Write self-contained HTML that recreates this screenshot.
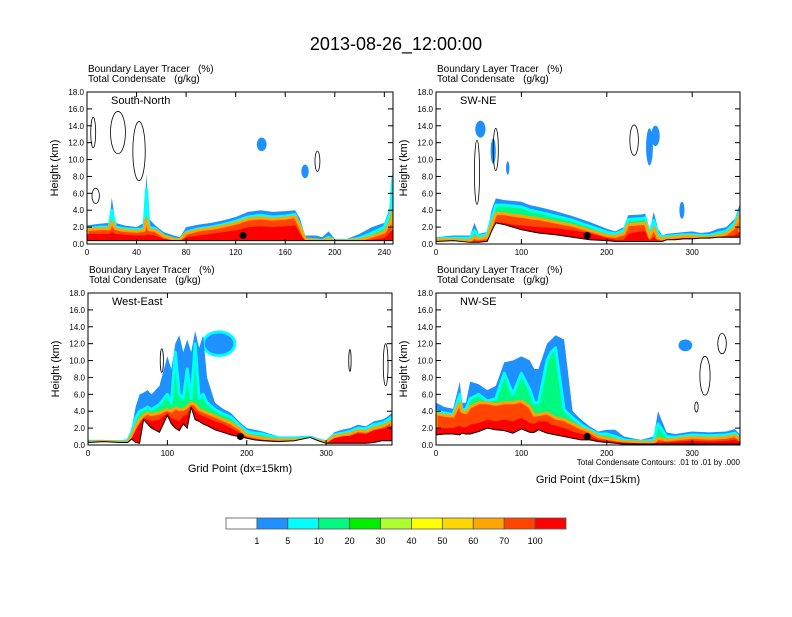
<!DOCTYPE html>
<html><head><meta charset="utf-8"><style>
body{margin:0;background:#fff;font-family:"Liberation Sans",sans-serif}
svg text{font-family:"Liberation Sans",sans-serif}
</style></head><body>
<svg id="fig" width="792" height="612" viewBox="0 0 792 612">
<text x="396" y="50" font-size="18" text-anchor="middle">2013-08-26_12:00:00</text>
</svg>
<script>
const levelLabels=["1","5","10","20","30","40","50","60","70","100"];
const levelColors=["#ffffff","#1e90ff","#00ffff","#00fa80","#00ee00","#adff2f","#ffff00","#ffd700","#ffa500","#ff4500","#ff0000"];
const yTicks=[0,2,4,6,8,10,12,14,16,18];

const aXs=[0,10,18,20,23,30,40,46,48,50,55,62,70,75,80,90,100,110,120,130,140,150,160,168,172,176,185,190,195,200,210,220,230,240,245,247];
const aGround=[0.4,0.4,0.4,0.4,0.4,0.4,0.4,0.4,0.4,0.4,0.4,0.4,0.4,0.4,0.4,0.4,0.4,0.4,0.4,0.4,0.4,0.4,0.4,0.4,0.4,0.4,0.4,0.4,0.4,0.4,0.4,0.4,0.4,0.4,0.4,0.4];
const aBlue=[2.2,2.4,2.5,5.5,2.5,2.2,2.0,2.5,8.3,3,2.2,1.4,1.0,0.8,2.0,2.3,2.5,2.8,3.2,3.8,4.0,3.8,3.9,4.0,3.0,1.0,1.0,0.8,1.5,0.6,0.6,1.2,2.0,2.5,4.5,9.5];
const aGreen=[1.8,2.0,2.0,4.0,2.0,1.8,1.7,1.8,6.5,2.0,1.8,1.0,0.6,0.5,1.4,1.8,2.0,2.3,2.7,3.2,3.4,3.2,3.3,3.5,2.2,0.6,0.5,0.4,0.8,0.4,0.4,0.7,1.3,2.0,3.8,8.0];
const aOrange=[1.7,1.8,1.8,2.6,1.8,1.6,1.5,1.6,3.0,1.7,1.6,0.9,0.55,0.45,1.25,1.65,1.85,2.1,2.45,2.95,3.1,2.95,3.05,3.25,2.0,0.55,0.45,0.35,0.6,0.35,0.35,0.5,0.9,1.4,2.6,4.0];
const aRed=[1.2,1.2,1.2,1.4,1.2,1.1,1.0,1.0,1.1,1.1,1.0,0.6,0.45,0.4,0.8,1.0,1.2,1.4,1.6,2.0,2.1,2.0,2.1,2.2,1.2,0.45,0.4,0.3,0.4,0.3,0.3,0.35,0.5,0.7,1.4,1.8];

const bXs=[0,20,40,45,50,60,65,70,80,90,100,110,120,140,160,180,200,210,220,225,240,245,250,255,260,265,270,280,290,300,310,320,330,340,350,356];
const bGround=[0.3,0.4,0.2,0.2,0.2,0.3,1.5,2.5,2.3,2.0,1.7,1.5,1.3,1.1,0.8,0.5,0.4,0.3,0.3,0.3,0.3,0.3,0.3,0.3,0.3,0.3,0.5,0.5,0.6,0.6,0.7,0.7,0.8,0.8,0.8,0.8];
const bBlue=[0.8,1.0,1.0,2.5,1.2,1.4,4.0,5.4,5.2,5.1,5.0,4.6,4.4,3.9,3.3,2.6,1.8,1.5,2.0,3.4,3.5,3.6,1.5,3.8,1.8,1.0,1.2,1.3,1.4,1.5,1.3,1.4,1.8,2.0,3.0,4.8];
const bGreen=[0.6,0.7,0.7,1.6,0.9,1.1,3.0,4.6,4.6,4.5,4.4,4.0,3.8,3.3,2.8,2.1,1.4,1.2,1.6,2.9,3.0,3.1,1.1,2.8,1.2,0.8,0.9,1.0,1.1,1.1,1.0,1.0,1.3,1.5,2.5,4.0];
const bOrange=[0.5,0.5,0.4,0.8,0.6,0.8,2.2,3.6,3.6,3.4,3.3,3.1,3.0,2.6,2.2,1.6,1.0,0.9,1.2,2.3,2.4,2.5,0.8,1.9,0.7,0.6,0.7,0.8,0.9,0.9,0.8,0.8,1.0,1.2,2.0,3.5];
const bRed=[0.3,0.4,0.2,0.3,0.3,0.4,1.6,2.6,2.5,2.3,2.2,2.1,2.0,1.9,1.6,1.3,0.7,0.5,0.5,1.2,1.5,1.5,0.4,0.8,0.4,0.4,0.5,0.6,0.7,0.7,0.7,0.8,0.8,0.9,1.0,1.5];

const cXs=[0,20,40,50,55,60,65,70,75,80,90,100,105,110,115,120,125,130,135,140,145,150,160,170,180,190,200,210,220,240,260,280,290,300,310,320,330,340,350,360,370,375,383];
const cGround=[0.3,0.4,0.3,0.3,0.7,0.3,0.2,3.0,2.5,2.0,1.5,3.5,2.5,2.0,1.7,2.5,2.0,4.5,3.0,2.8,2.5,2.3,1.8,1.5,1.2,1.0,0.8,0.6,0.5,0.4,0.5,0.9,0.5,0.2,0.2,0.2,0.2,0.2,0.2,0.3,0.5,0.5,0.5];
const cBlue=[0.6,0.6,0.5,0.7,2.0,4.5,6.0,6.2,6.5,6.0,7.0,10.5,9.0,12.0,13.0,11.0,12.5,11.0,13.5,11.5,13.0,8.0,5.0,4.3,3.8,2.8,2.0,1.8,1.6,1.0,1.0,1.1,0.8,0.5,1.5,1.8,2.0,2.4,2.2,2.8,3.0,3.2,3.8];
const cGreen=[0.4,0.4,0.4,0.5,1.5,3.2,4.0,4.2,4.5,4.2,4.8,6.0,5.0,11.0,6.0,5.5,9.0,5.5,12.0,5.5,6.0,5.0,4.2,3.7,3.3,2.4,1.6,1.4,1.3,0.8,0.8,0.9,0.6,0.4,1.2,1.4,1.6,2.0,1.9,2.4,2.6,2.8,3.3];
const cOrange=[0.3,0.4,0.3,0.3,1.0,2.2,3.0,3.5,3.8,3.6,3.8,4.2,4.0,4.4,4.2,4.2,4.5,5.0,4.8,4.2,4.0,3.8,3.4,3.0,2.6,2.0,1.2,1.0,0.8,0.6,0.6,0.7,0.5,0.3,1.0,1.2,1.3,1.7,1.6,2.0,2.2,2.4,2.8];
const cRed=[0.3,0.4,0.3,0.3,0.8,1.8,2.5,3.2,3.0,2.8,3.0,3.8,3.2,3.0,2.8,3.4,3.6,4.6,4.0,3.6,3.4,3.2,2.8,2.5,2.0,1.5,0.9,0.7,0.6,0.5,0.5,0.6,0.4,0.2,0.8,1.0,1.1,1.4,1.3,1.7,1.9,2.0,2.3];

const dXs=[0,10,20,28,30,35,40,50,60,70,80,90,100,110,115,120,130,135,140,150,160,170,180,190,200,210,220,240,255,260,270,280,300,320,340,350,356];
const dGround=[1.2,1.3,1.3,1.2,1.4,1.3,1.3,1.6,2.0,1.8,1.7,1.4,1.9,1.5,1.5,1.8,1.4,1.3,1.2,1.0,0.8,0.6,0.6,0.4,0.3,0.2,0.1,0.1,0.1,0.1,0.1,0.1,0.1,0.1,0.1,0.1,0.1];
const dBlue=[5.0,4.5,4.3,7.5,5.0,5.0,7.5,7.2,6.5,7.0,9.8,10.0,10.5,10.0,9.0,9.0,12.0,12.5,13.0,12.5,4.0,3.0,2.2,1.6,1.8,1.8,1.0,0.6,1.0,4.0,1.5,1.3,1.6,1.5,1.6,1.9,1.2];
const dGreen=[4.0,3.8,3.6,6.0,4.2,4.2,5.5,6.0,5.2,5.5,8.5,6.0,8.5,6.5,5.0,5.0,10.0,11.0,11.5,4.2,3.2,2.4,1.8,1.3,1.3,1.0,0.6,0.4,0.6,2.5,1.0,0.9,1.2,1.1,1.2,1.4,0.9];
const dOrange=[3.7,3.5,3.4,5.0,4.0,3.8,4.5,5.0,5.0,4.8,5.0,5.0,5.2,4.5,3.5,3.6,3.8,3.5,3.2,3.0,2.5,2.0,1.6,1.0,0.8,0.6,0.4,0.3,0.3,0.8,0.6,0.7,0.9,0.8,0.9,1.1,0.7];
const dRed=[2.0,2.0,2.0,2.3,2.1,2.1,2.4,2.6,3.0,2.8,3.0,2.8,3.2,2.6,2.5,2.8,2.8,2.4,2.3,2.0,1.6,1.3,1.1,0.6,0.5,0.4,0.3,0.2,0.2,0.3,0.3,0.4,0.5,0.4,0.5,0.6,0.4];

// blobs: [x, height, rx(grid), ry(km)]
const aBlobs=[[141,11.8,4,0.8],[176,8.6,3,0.8]];
const bBlobs=[[52,13.6,6,1.0],[67,11,3,1.5],[84,9,2,0.8],[250,11.5,4,2.2],[257,12.8,5,1.2],[288,4,3,1]];
const cBlobs=[[165,12,20,1.4]];
const dBlobs=[[292,11.8,8,0.7]];
// contour outlines: [x, height, rx, ry]
const aLines=[[5,13.2,2,1.8],[25,13.2,6,2.5],[42,11,5,3.5],[186,9.8,2,1.2],[7,5.7,3,0.9]];
const bLines=[[48,8.5,3,3.8],[70,11.2,3,2.5],[232,12.3,5,1.8]];
const cLines=[[93,10,2,1.4],[330,10,1.5,1.3],[375,9.5,3,2.5]];
const dLines=[[315,8.2,6,2.3],[335,12,5,1.2],[305,4.5,2,0.6]];
const dots=[[126,1.0],[177,1.0],[192,1.0],[177,1.0]];

const NS="http://www.w3.org/2000/svg";
const fig=document.getElementById('fig');
function mk(tag,attrs,parent){const e=document.createElementNS(NS,tag);for(const k in attrs)e.setAttribute(k,attrs[k]);(parent||fig).appendChild(e);return e;}

const panels=[
 {name:"south-north",label:"South-North",x0:87,x1:393,y0:92,y1:244,xmax:247,xticks:[0,40,80,120,160,200,240],xs:aXs,g:aGround,L:[aBlue,aGreen,aOrange,aRed],blobs:aBlobs,lines:aLines,dot:dots[0],xt:false},
 {name:"sw-ne",label:"SW-NE",x0:436,x1:740,y0:92,y1:244,xmax:356,xticks:[0,100,200,300],xs:bXs,g:bGround,L:[bBlue,bGreen,bOrange,bRed],blobs:bBlobs,lines:bLines,dot:dots[1],xt:false},
 {name:"west-east",label:"West-East",x0:88,x1:392,y0:293,y1:445,xmax:383,xticks:[0,100,200,300],xs:cXs,g:cGround,L:[cBlue,cGreen,cOrange,cRed],blobs:cBlobs,lines:cLines,dot:dots[2],xt:true},
 {name:"nw-se",label:"NW-SE",x0:436,x1:740,y0:293,y1:445,xmax:356,xticks:[0,100,200,300],xs:dXs,g:dGround,L:[dBlue,dGreen,dOrange,dRed],blobs:dBlobs,lines:dLines,dot:dots[3],xt:true,foot:true}
];
const fills=[["#1e90ff","none",0],["#00fa80","#00ffff",3],["#ff4500","#ffa500",3],["#ff0000","none",0]];

panels.forEach((p,pi)=>{
 const G=mk('g',{});
 
 
 const X=v=>p.x0+(p.x1-p.x0)*v/p.xmax;
 const Y=v=>p.y1-(p.y1-p.y0)*v/18;
 const cid='clip'+pi;
 const cp=mk('clipPath',{id:cid},G);mk('rect',{x:p.x0,y:p.y0,width:p.x1-p.x0,height:p.y1-p.y0},cp);
 const body=mk('g',{'clip-path':'url(#'+cid+')'},G);
 p.blobs.forEach(b=>{const e=mk('ellipse',{cx:X(b[0]),cy:Y(b[1]),rx:(p.x1-p.x0)*b[2]/p.xmax,ry:(p.y1-p.y0)*b[3]/18,fill:"#1e90ff",stroke:"#00ffff","stroke-width":b[2]>10?3:0},body);
  
  });
 p.L.forEach((arr,li)=>{
  let d='M'+X(p.xs[0])+','+Y(0);
  p.xs.forEach((x,i)=>{d+=' L'+X(x)+','+Y(arr[i]);});
  d+=' L'+X(p.xs[p.xs.length-1])+','+Y(0)+'Z';
  const e=mk('path',{d:d,fill:fills[li][0],stroke:fills[li][1],"stroke-width":fills[li][2],"stroke-linejoin":"round"},body);
  
  
 });
 let d='M'+X(p.xs[0])+','+Y(-1);
 p.xs.forEach((x,i)=>{d+=' L'+X(x)+','+Y(p.g[i]);});
 d+=' L'+X(p.xs[p.xs.length-1])+','+Y(-1)+'Z';
 const t=mk('path',{d:d,fill:"#fff",stroke:"#000","stroke-width":1},body);
 
 
 p.lines.forEach(b=>{const e=mk('ellipse',{cx:X(b[0]),cy:Y(b[1]),rx:(p.x1-p.x0)*b[2]/p.xmax,ry:(p.y1-p.y0)*b[3]/18,fill:"none",stroke:"#000","stroke-width":0.8},body);
  
  });
 const dt=mk('circle',{cx:X(p.dot[0]),cy:Y(p.dot[1]),r:3.5,fill:"#000"},body);
 
 
 mk('rect',{x:p.x0,y:p.y0,width:p.x1-p.x0,height:p.y1-p.y0,fill:"none",stroke:"#000","stroke-width":1},G);
 yTicks.forEach(v=>{const y=Y(v);
  mk('line',{x1:p.x0,x2:p.x0+5,y1:y,y2:y,stroke:"#000"},G);
  mk('line',{x1:p.x1,x2:p.x1-5,y1:y,y2:y,stroke:"#000"},G);
  const tx=mk('text',{x:p.x0-3,y:y+3,"font-size":8,"text-anchor":"end"},G);tx.textContent=v.toFixed(1);
  
  
 });
 p.xticks.forEach(v=>{const x=X(v);
  mk('line',{x1:x,x2:x,y1:p.y1,y2:p.y1-5,stroke:"#000"},G);
  mk('line',{x1:x,x2:x,y1:p.y0,y2:p.y0+5,stroke:"#000"},G);
  const tx=mk('text',{x:x,y:p.y1+11,"font-size":8,"text-anchor":"middle"},G);tx.textContent=v;
  
  
 });
 const h1=mk('text',{x:p.x0+1,y:p.y0-20,"font-size":10},G);h1.textContent="Boundary Layer Tracer\u00a0\u00a0\u00a0(%)";
 
 
 const h2=mk('text',{x:p.x0+1,y:p.y0-10,"font-size":10},G);h2.textContent="Total Condensate\u00a0\u00a0\u00a0(g/kg)";
 
 
 const lb=mk('text',{x:p.x0+24,y:p.y0+12,"font-size":11},G);lb.textContent=p.label;
 
 
 const yl=mk('text',{transform:'translate('+(p.x0-29)+','+((p.y0+p.y1)/2)+') rotate(-90)',"font-size":11,"text-anchor":"middle"},G);yl.textContent="Height (km)";
 
 
 if(p.xt){const xl=mk('text',{x:(p.x0+p.x1)/2,y:p.foot?483:472,"font-size":11,"text-anchor":"middle"},G);xl.textContent="Grid Point (dx=15km)";
  
  }
 if(p.foot){const f=mk('text',{x:p.x1,y:p.y1+20,"font-size":8,"text-anchor":"end"},G);f.textContent="Total Condensate Contours: .01 to .01 by .000";
  
  }
});

const cb=mk('g',{});


const cbx=226,cbw=340/levelColors.length;
levelColors.forEach((c,i)=>{const r=mk('rect',{x:cbx+i*cbw,y:518,width:cbw,height:11,fill:c,stroke:"#555","stroke-width":0.8},cb);
 
 });
levelLabels.forEach((l,i)=>{const t=mk('text',{x:cbx+(i+1)*cbw,y:544,"font-size":9,"text-anchor":"middle"},cb);t.textContent=l;
 
 });
</script>
</body></html>
